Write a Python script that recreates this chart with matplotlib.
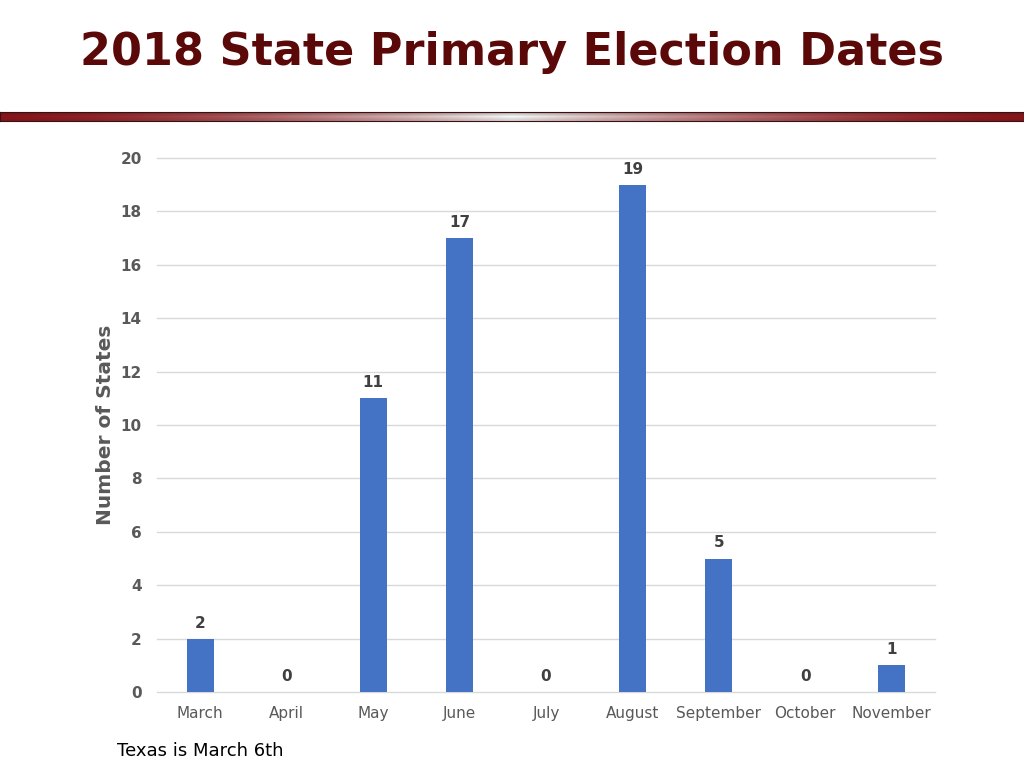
import numpy as np
import matplotlib.pyplot as plt

months = ["March", "April", "May", "June", "July", "August", "September", "October", "November"]
states = [2, 0, 11, 17, 0, 19, 5, 0, 1]
yticks = [0, 2, 4, 6, 8, 10, 12, 14, 16, 18, 20]

fig = plt.figure(figsize=(10.24, 7.68), dpi=100)

# Title
fig.text(0.5, 0.931, "2018 State Primary Election Dates", ha="center", va="center",
         fontsize=32, fontweight="bold", color="#5A0808")

# Gradient rule under the title
bar_ax = fig.add_axes([0.0, 1 - 121 / 768, 1.0, 9 / 768])
t = np.linspace(0, 1, 512)
w = np.clip(1 - np.abs(t - 0.5) * 2, 0, 1) ** 1.6
dark = np.array([0.55, 0.08, 0.10])
row = dark[None, :] * (1 - w[:, None]) + np.array([1.0, 1.0, 1.0])[None, :] * w[:, None] * 0.97
vert = np.array([0.75, 1.0, 0.85])
img = np.clip(row[None, :, :] * vert[:, None, None] + (1 - vert[:, None, None]) * 0.15, 0, 1)
bar_ax.imshow(img, aspect="auto", interpolation="bilinear", extent=[0, 1, 0, 1])
bar_ax.set_xticks([])
bar_ax.set_yticks([])
for s in bar_ax.spines.values():
    s.set_color("#3a1010")
    s.set_linewidth(0.8)

# Chart
ax = fig.add_axes([157 / 1024, 1 - 692 / 768, 778 / 1024, 534 / 768])
x = np.arange(len(months))
ax.bar(x, states, width=0.31, color="#4472C4", zorder=3)
for xi, v in zip(x, states):
    ax.text(xi, v + 0.3, str(v), ha="center", va="bottom", fontsize=11,
            fontweight="bold", color="#404040")

ax.set_xlim(-0.5, len(months) - 0.5)
ax.set_ylim(0, 20)
ax.set_yticks(yticks)
ax.set_yticklabels([str(v) for v in yticks], fontsize=11, fontweight="bold", color="#595959")
ax.set_xticks(x)
ax.set_xticklabels(months, fontsize=11, color="#595959")
ax.tick_params(axis="both", length=0)
ax.tick_params(axis="y", pad=11)
ax.tick_params(axis="x", pad=10)
ax.yaxis.grid(True, color="#D9D9D9", linewidth=1, zorder=0)
for line in ax.get_ygridlines():
    line.set_clip_on(False)
for s in ax.spines.values():
    s.set_visible(False)
ax.set_ylabel("Number of States", fontsize=14.5, fontweight="bold", color="#595959", labelpad=4)

fig.text(117 / 1024, 1 - 751 / 768, "Texas is March 6th", ha="left", va="center",
         fontsize=13, color="black")

fig.savefig("out.png", dpi=100)
